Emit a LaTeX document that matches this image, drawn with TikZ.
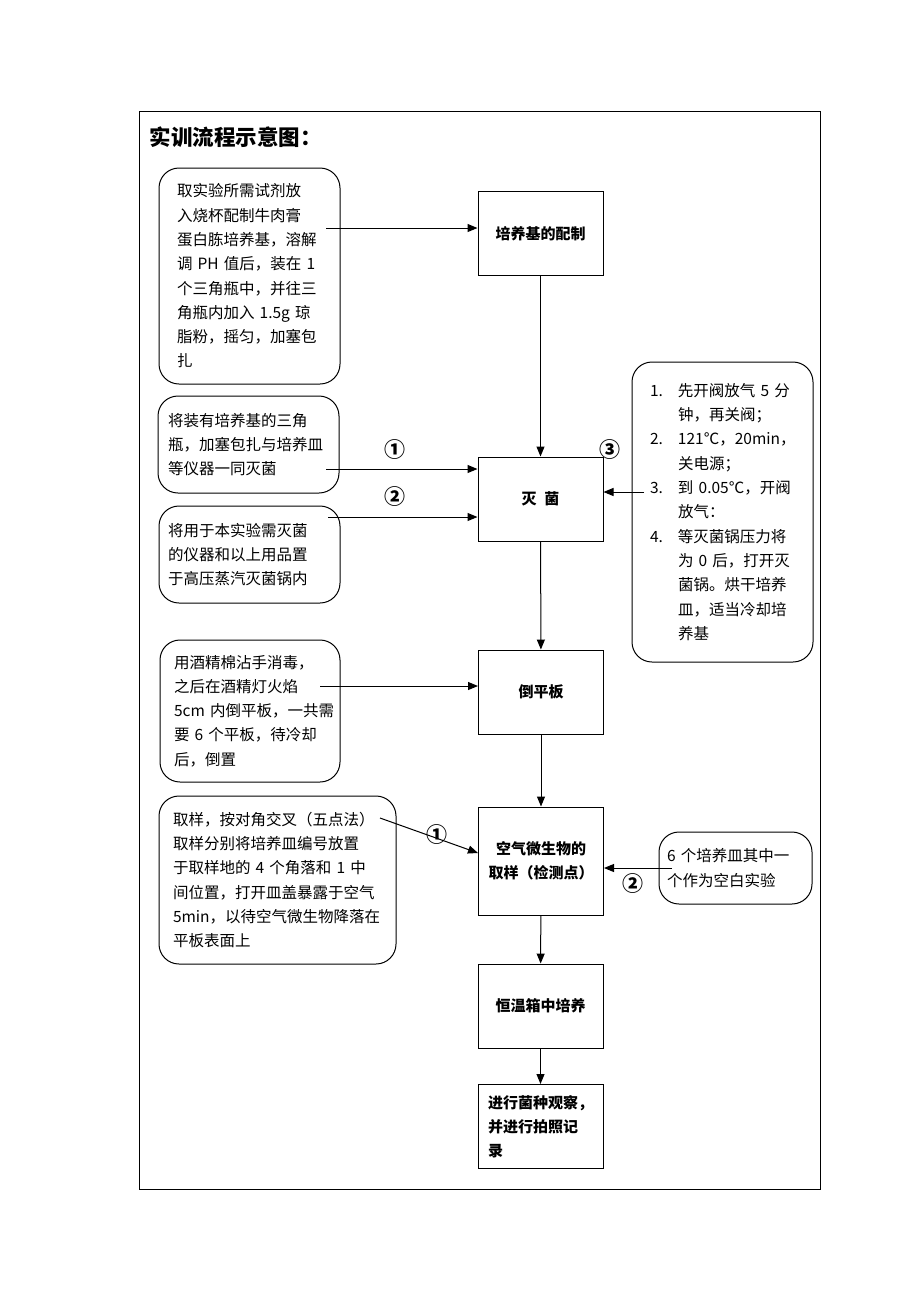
\documentclass[tikz,border=0pt]{standalone}
\usepackage{fontspec}
\setmainfont{Noto Sans CJK SC}
\usetikzlibrary{arrows.meta}
\newcommand{\itemno}[1]{\makebox[28pt][l]{#1}}
\newcommand{\itemgap}{\hspace*{28pt}}

\tikzset{
  mainbox/.style={draw, line width=1pt, minimum width=125pt, minimum height=84pt, inner sep=2pt, align=center, font=\fontsize{15}{24}\selectfont\bfseries},
  notebox/.style={draw, line width=1pt, rounded corners=20pt, align=left, inner ysep=4pt, font=\fontsize{15.5}{24.3}\selectfont},
  flow/.style={line width=1pt, -{Triangle[length=10pt,width=8pt]}},
  stepno/.style={font=\fontsize{21}{21}\selectfont\bfseries}
}

\begin{document}
\begin{tikzpicture}[x=1pt, y=-1pt]
	%%%%% START %%%%%
	\useasboundingbox (0,0) rectangle (920,1302);
	\draw[line width=0.8pt] (139,111) rectangle (820,1189);
	\node[anchor=west, font=\fontsize{21.5}{21.5}\selectfont\bfseries] (title) at (146,137) {实训流程示意图：};
	
	% main flow
	\node[mainbox] (peiyang) at (540.5,233.5) {培养基的配制};
	\node[mainbox] (miejun) at (540.5,499) {灭\hspace{8pt}菌};
	\node[mainbox] (daoping) at (541,692) {倒平板};
	\node[mainbox, minimum height=108pt] (quyang) at (541,861) {空气微生物的\\取样（检测点）};
	\node[mainbox] (hengwen) at (540.5,1006) {恒温箱中培养};
	\node[mainbox, inner xsep=10pt, text width=105pt, align=left] (guancha) at (540.5,1126.5) {进行菌种观察，\\并进行拍照记\\录};
	
	\draw[flow] (peiyang) -- (miejun);
	\draw[flow] (miejun) -- (daoping);
	\draw[flow] (daoping) -- (quyang);
	\draw[flow] (quyang) -- (hengwen);
	\draw[flow] (hengwen) -- (guancha);
	
	% notes
	\node[notebox, inner xsep=18pt, text width=145pt, minimum height=216pt] (prep) at (249.5,276) {取实验所需试剂放\\入烧杯配制牛肉膏\\蛋白胨培养基，溶解\\调 PH 值后，装在 1\\个三角瓶中，并往三\\角瓶内加入 1.5g 琼\\脂粉，摇匀，加塞包\\扎};
	\node[notebox, inner xsep=10pt, text width=161pt, minimum height=97pt] (flask) at (248.5,444.5) {将装有培养基的三角\\瓶，加塞包扎与培养皿\\等仪器一同灭菌};
	\node[notebox, inner xsep=9pt, text width=163pt, minimum height=97pt] (tools) at (249.5,554.5) {将用于本实验需灭菌\\的仪器和以上用品置\\于高压蒸汽灭菌锅内};
	\node[notebox, inner xsep=18pt, text width=145pt, minimum height=300pt] (steps) at (722.5,512) {\itemno{1.}先开阀放气 5 分\\\itemgap 钟，再关阀；\\\itemno{2.}121℃，20min，\\\itemgap 关电源；\\\itemno{3.}到 0.05℃，开阀\\\itemgap 放气：\\\itemno{4.}等灭菌锅压力将\\\itemgap 为 0 后，打开灭\\\itemgap 菌锅。烘干培养\\\itemgap 皿，适当冷却培\\\itemgap 养基};
	\node[notebox, inner xsep=14pt, text width=152pt, minimum height=142pt] (pour) at (250,711) {用酒精棉沾手消毒，\\之后在酒精灯火焰\\\mbox{5cm 内倒平板，一共需}\\要 6 个平板，待冷却\\后，倒置};
	\node[notebox, inner xsep=14pt, text width=209pt, minimum height=168pt] (sample) at (277.5,880) {取样，按对角交叉（五点法）\\取样分别将培养皿编号放置\\于取样地的 4 个角落和 1 中\\间位置，打开皿盖暴露于空气\\5min，以待空气微生物降落在\\平板表面上};
	\node[notebox, inner xsep=8pt, text width=137pt, minimum height=72pt] (blank) at (735.5,868) {6 个培养皿其中一\\个作为空白实验};
	
	% side arrows
	\coordinate (pA) at (326,228);
	\coordinate (pB) at (326,469);
	\coordinate (pC) at (328,517);
	\coordinate (pD) at (644,492);
	\coordinate (pE) at (320,686);
	\coordinate (pF) at (380,818);
	\coordinate (pG) at (672,868);
	\draw[flow] (pA) -- (pA -| peiyang.west);
	\draw[flow] (pB) -- (pB -| miejun.west);
	\draw[flow] (pC) -- (pC -| miejun.west);
	\draw[flow] (pD) -- (pD -| miejun.east);
	\draw[flow] (pE) -- (pE -| daoping.west);
	\draw[flow] (pF) -- ([yshift=8pt]quyang.west);
	\draw[flow] (pG) -- (pG -| quyang.east);
	
	\node[stepno] (n1) at (395,450) {①};
	\node[stepno] (n2) at (395,497) {②};
	\node[stepno] (n3) at (610,450) {③};
	\node[stepno] (n4) at (437,835) {①};
	\node[stepno] (n5) at (633,884) {②};
	%%%%% END %%%%%
\end{tikzpicture}
\end{document}
